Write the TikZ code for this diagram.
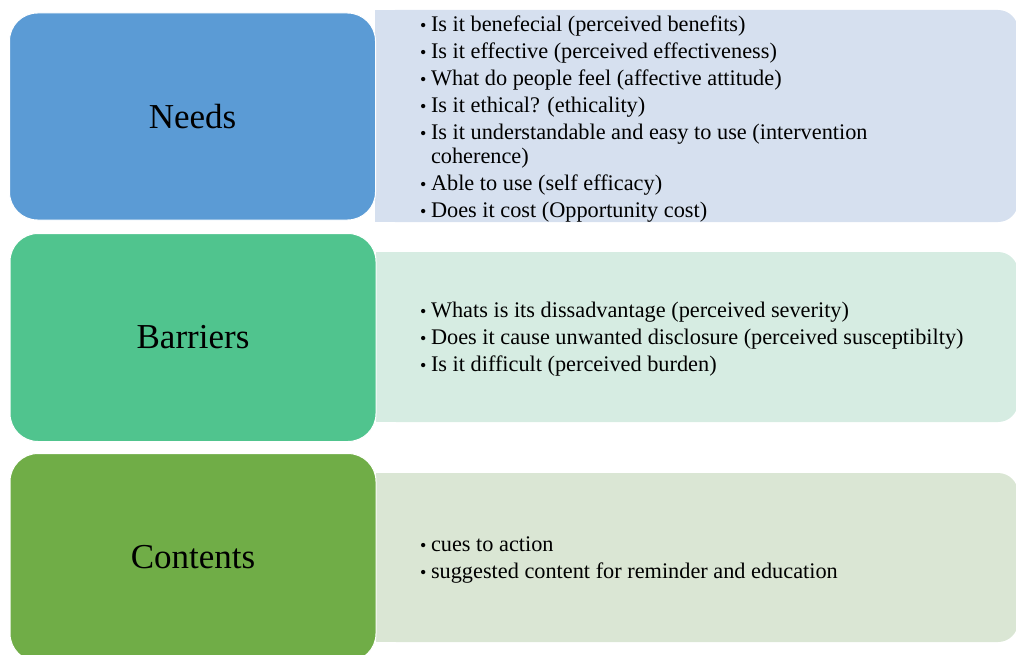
\documentclass[tikz,border=0pt]{standalone}
\usepackage{fontspec}
\setmainfont{Liberation Serif}
\definecolor{needsC}{RGB}{91,155,213}
\definecolor{needsL}{RGB}{214,224,239}
\definecolor{barrC}{RGB}{80,196,142}
\definecolor{barrL}{RGB}{214,236,226}
\definecolor{contC}{RGB}{112,173,71}
\definecolor{contL}{RGB}{218,230,212}
\newcommand{\bl}{{\fontsize{18}{18}\selectfont\textbullet}}
\begin{document}
\begin{tikzpicture}[x=1pt,y=-1pt,
  mainbox/.style={draw=white, line width=1pt, rounded corners=28pt, inner sep=0pt,
    minimum width=366pt, minimum height=208pt, font=\fontsize{35}{40}\selectfont},
  listtext/.style={anchor=base west, inner sep=0pt, align=left,
    font=\fontsize{22.3}{24}\selectfont}]
\useasboundingbox (0,0) rectangle (1016,655);
\clip (0,0) rectangle (1016,655);
% list backgrounds
\fill[needsL, rounded corners=20pt] (375,10) rectangle (1018,222);
\fill[needsL] (375,10) rectangle (420,222);
\fill[barrL, rounded corners=20pt] (376,252) rectangle (1018,422);
\fill[barrL] (376,252) rectangle (420,422);
\fill[contL, rounded corners=20pt] (376,473) rectangle (1018,642);
\fill[contL] (376,473) rectangle (420,642);
% main boxes
\node[mainbox, fill=needsC, minimum height=207pt] (needs) at (192.5,116.5) {Needs};
\node[mainbox, fill=barrC] (barriers) at (193,337.5) {Barriers};
\node[mainbox, fill=contC] (contents) at (193,557.5) {Contents};
% lists
\node[listtext] (needslist) at (420,31.5) {\begin{tabular}[t]{@{}l@{\hspace{4.5pt}}l@{}}
\bl & Is it benefecial (perceived benefits)\\[3pt]
\bl & Is it effective (perceived effectiveness)\\[3pt]
\bl & What do people feel (affective attitude)\\[3pt]
\bl & Is it ethical? (ethicality)\\[3pt]
\bl & Is it understandable and easy to use (intervention\\
    & coherence)\\[3pt]
\bl & Able to use (self efficacy)\\[3pt]
\bl & Does it cost (Opportunity cost)
\end{tabular}};
\node[listtext] (barrlist) at (420,317.5) {\begin{tabular}[t]{@{}l@{\hspace{4.5pt}}l@{}}
\bl & Whats is its dissadvantage (perceived severity)\\[3pt]
\bl & Does it cause unwanted disclosure (perceived susceptibilty)\\[3pt]
\bl & Is it difficult (perceived burden)
\end{tabular}};
\node[listtext] (contlist) at (420,551.5) {\begin{tabular}[t]{@{}l@{\hspace{4.5pt}}l@{}}
\bl & cues to action\\[3pt]
\bl & suggested content for reminder and education
\end{tabular}};
\end{tikzpicture}
\end{document}
